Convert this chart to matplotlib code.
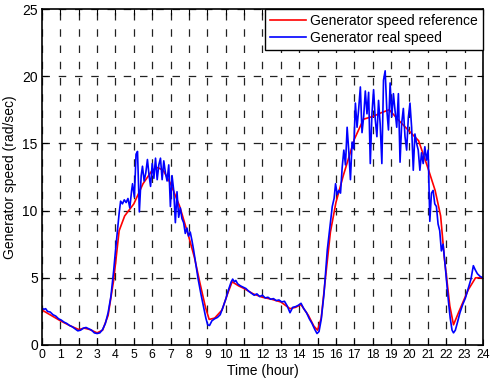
import numpy as np
import matplotlib
matplotlib.use('Agg')
import matplotlib.pyplot as plt

plt.rcParams['font.family'] = ['Liberation Sans', 'DejaVu Sans']

# reference speed (smooth curve)
ref_t = [0, 0.5, 1, 1.5, 2, 2.3, 2.6, 3, 3.3, 3.6, 3.9, 4.2, 4.5, 5, 5.5, 6, 6.3, 6.6,
	7, 7.5, 8, 8.3, 8.6, 8.9, 9.1, 9.4, 9.8, 10.1, 10.35, 10.7, 11, 11.5, 12, 12.5,
	13, 13.5, 13.8, 14.1, 14.5, 14.8, 15, 15.2, 15.4, 15.7, 16, 16.4, 17, 17.5, 18,
	18.5, 18.9, 19.5, 20, 20.5, 21, 21.4, 21.7, 21.9, 22.2, 22.4, 22.7, 23.2, 23.6, 24]
ref_v = [2.6, 2.2, 1.8, 1.45, 1.15, 1.25, 1.15, 0.9, 1.1, 2.2, 4.8, 8.5, 9.6, 10.5, 12.0,
	13.0, 13.2, 13.0, 12.0, 10.3, 8.0, 6.5, 4.6, 2.8, 1.9, 2.0, 2.6, 3.8, 4.7, 4.4, 4.2,
	3.8, 3.55, 3.4, 3.2, 2.7, 2.8, 3.0, 2.2, 1.4, 1.1, 2.0, 4.6, 8.4, 10.6, 12.6, 15.3,
	16.8, 17.0, 17.3, 17.5, 16.6, 15.9, 15.2, 13.2, 11.5, 9.6, 6.5, 2.9, 1.5, 2.5, 4.1,
	5.0, 5.0]

real_t = [0.00, 0.10, 0.20, 0.30, 0.45, 0.60, 0.75, 0.90, 1.05, 1.20, 1.35, 1.50, 1.65,
	1.80, 1.95, 2.10, 2.25, 2.40, 2.55, 2.70, 2.85, 3.00, 3.15, 3.30, 3.45, 3.60, 3.75,
	3.90, 4.00, 4.10, 4.20, 4.28, 4.38, 4.48, 4.58, 4.68, 4.78, 4.88, 4.93, 5.03, 5.12,
	5.20, 5.30, 5.40, 5.47, 5.56, 5.65, 5.74, 5.83, 5.91, 6.00, 6.09, 6.18, 6.27, 6.36,
	6.45, 6.54, 6.63, 6.72, 6.81, 6.90, 6.99, 7.08, 7.17, 7.26, 7.35, 7.44, 7.53, 7.62,
	7.71, 7.80, 7.89, 7.98, 8.07, 8.16, 8.25, 8.35, 8.50, 8.65, 8.80, 8.92, 9.02, 9.12,
	9.25, 9.40, 9.55, 9.70, 9.85, 10.00, 10.15, 10.30, 10.38, 10.47, 10.55, 10.65, 10.80,
	10.95, 11.10, 11.25, 11.40, 11.55, 11.70, 11.85, 12.00, 12.15, 12.30, 12.45, 12.60,
	12.75, 12.90, 13.05, 13.20, 13.35, 13.50, 13.65, 13.80, 13.95, 14.10, 14.25, 14.40,
	14.55, 14.70, 14.85, 14.97, 15.08, 15.20, 15.35, 15.53, 15.65, 15.80, 15.90, 15.98,
	16.07, 16.16, 16.25, 16.34, 16.43, 16.52, 16.61, 16.70, 16.79, 16.88, 16.97, 17.06,
	17.15, 17.24, 17.33, 17.42, 17.51, 17.60, 17.69, 17.78, 17.87, 17.96, 18.05, 18.14,
	18.23, 18.32, 18.41, 18.50, 18.59, 18.68, 18.77, 18.86, 18.95, 19.04, 19.13, 19.22,
	19.31, 19.40, 19.49, 19.58, 19.67, 19.76, 19.85, 19.94, 20.03, 20.12, 20.21, 20.30,
	20.39, 20.48, 20.57, 20.66, 20.75, 20.84, 20.93, 21.02, 21.11, 21.20, 21.29, 21.38,
	21.47, 21.56, 21.65, 21.74, 21.83, 21.92, 22.02, 22.12, 22.22, 22.32, 22.40, 22.50,
	22.62, 22.75, 22.90, 23.05, 23.20, 23.35, 23.48, 23.58, 23.70, 23.85, 24.00]
real_v = [2.75, 2.65, 2.70, 2.50, 2.45, 2.25, 2.15, 1.95, 1.85, 1.70, 1.60, 1.45, 1.35,
	1.20, 1.05, 1.10, 1.25, 1.30, 1.20, 1.10, 0.90, 0.85, 0.90, 1.15, 1.60, 2.40, 3.60,
	5.50, 7.00, 8.40, 9.80, 10.70, 10.50, 10.80, 10.60, 10.90, 10.20, 11.50, 12.00, 11.00,
	14.20, 14.40, 9.90, 12.60, 13.30, 12.20, 12.80, 13.80, 12.60, 11.80, 13.50, 12.40,
	13.90, 12.30, 13.40, 13.90, 12.30, 13.70, 12.80, 12.20, 13.40, 10.30, 12.60, 11.50,
	9.10, 11.40, 9.50, 10.20, 9.40, 9.10, 8.30, 8.70, 8.10, 8.40, 7.80, 7.10, 6.20, 4.90,
	3.80, 2.80, 2.00, 1.50, 1.45, 1.80, 1.95, 2.05, 2.25, 2.80, 3.40, 4.10, 4.70, 4.90,
	4.70, 4.80, 4.55, 4.40, 4.30, 4.20, 4.00, 3.85, 3.70, 3.80, 3.60, 3.70, 3.50, 3.55,
	3.40, 3.45, 3.30, 3.35, 3.20, 3.25, 2.90, 2.40, 2.80, 2.85, 2.95, 3.10, 2.70, 2.40,
	1.95, 1.60, 1.15, 0.85, 1.00, 1.90, 3.80, 7.07, 8.50, 10.30, 10.90, 12.00, 11.20,
	11.50, 11.30, 13.20, 14.50, 13.40, 16.20, 14.40, 12.30, 15.10, 14.60, 18.00, 16.20,
	17.60, 19.20, 15.80, 16.98, 18.90, 17.20, 18.80, 13.50, 17.20, 19.00, 16.80, 15.50,
	18.20, 16.40, 13.50, 19.70, 20.40, 17.50, 16.00, 19.50, 16.98, 18.70, 17.40, 16.20,
	18.70, 13.60, 16.50, 17.60, 15.50, 14.50, 16.90, 18.00, 16.20, 13.00, 15.70, 15.00,
	14.50, 13.00, 14.30, 13.50, 14.75, 13.75, 14.50, 9.20, 11.30, 11.50, 10.50, 10.30,
	9.00, 8.50, 7.00, 7.50, 6.30, 4.80, 3.30, 2.00, 1.10, 0.90, 1.10, 1.70, 2.40, 3.00,
	3.50, 4.20, 4.90, 5.90, 5.60, 5.30, 5.10, 5.00]

x_ticks = list(range(0, 25))
y_ticks = [0, 5, 10, 15, 20, 25]

fig = plt.figure(figsize=(4.91, 3.85), dpi=100)
ax = fig.add_axes([0.0855, 0.104, 0.898, 0.8726])

ax.plot(ref_t, ref_v, color='#ff0000', lw=1.2, label='Generator speed reference')
ax.plot(real_t, real_v, color='#0000ff', lw=1.2, label='Generator real speed')

ax.set_xlim(0, 24)
ax.set_ylim(0, 25)
ax.set_xticks(x_ticks)
ax.set_yticks(y_ticks)
ax.tick_params(direction='in', top=True, right=True, length=4, width=0.8, labelsize=10, pad=3)
ax.tick_params(axis='x', labelsize=8.8)
ax.grid(True, color='#222222', lw=0.9, ls=(0, (6, 7)))
for s in ax.spines.values():
	s.set_linewidth(1.2)

ax.set_xlabel('Time (hour)', fontsize=10, labelpad=2)
ax.set_ylabel('Generator speed (rad/sec)', fontsize=10, labelpad=4)

leg = ax.legend(loc='upper right', fontsize=10, fancybox=False, framealpha=1,
	edgecolor='black', borderaxespad=0, handlelength=2.6, borderpad=0.35,
	labelspacing=0.25, handletextpad=0.3)
leg.get_frame().set_linewidth(1.0)

fig.savefig('out.png', dpi=100)
